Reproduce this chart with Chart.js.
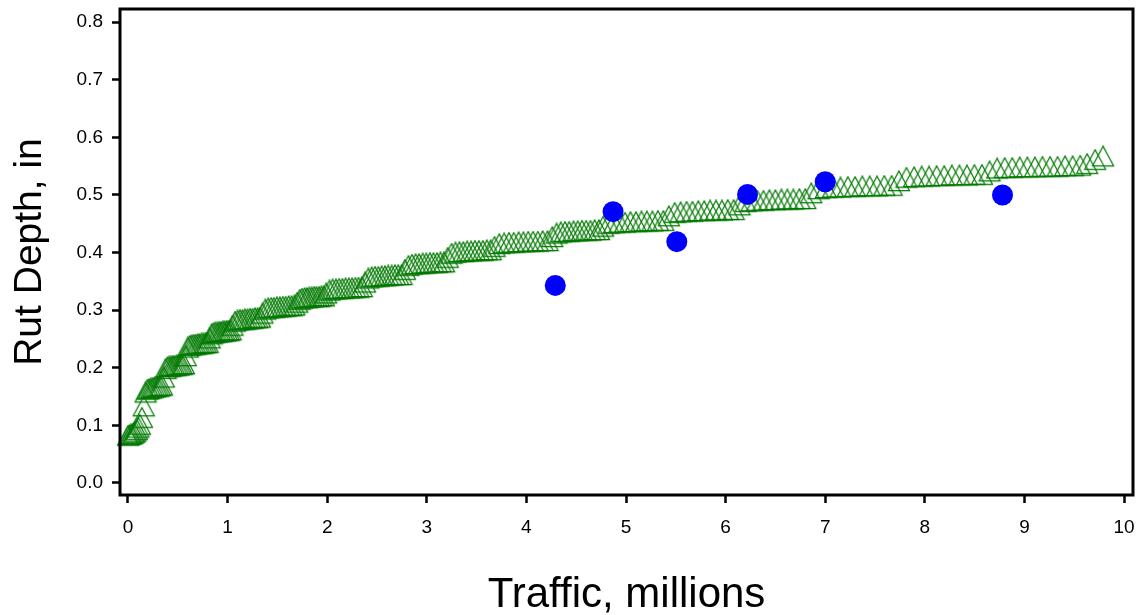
<!DOCTYPE html>
<html>
<head>
<meta charset="utf-8">
<title>Rut Depth vs Traffic</title>
<script src="https://cdn.jsdelivr.net/npm/chart.js@4/dist/chart.umd.min.js"></script>
<style>
  html, body { margin: 0; padding: 0; background: #ffffff; }
  #wrap { width: 1141px; height: 615px; }
</style>
</head>
<body>
<div id="wrap"><canvas id="chart" width="1141" height="615"></canvas></div>
<script>
// Predicted rut depth (monthly steps) against cumulative traffic, millions
const trafficModel = [
  0.000, 0.015, 0.030, 0.045, 0.060, 0.075, 0.090, 0.105, 0.120,
  0.140, 0.158, 0.177, 0.195, 0.213, 0.232, 0.250, 0.268, 0.287, 0.305, 0.323, 0.342,
  0.360, 0.378, 0.397, 0.415, 0.433, 0.452, 0.470, 0.488, 0.507, 0.525, 0.543, 0.562,
  0.580, 0.600, 0.620, 0.640, 0.660, 0.680, 0.700, 0.720, 0.740, 0.760, 0.780, 0.800,
  0.820, 0.839, 0.858, 0.878, 0.897, 0.916, 0.935, 0.954, 0.973, 0.993, 1.012, 1.031,
  1.050, 1.075, 1.100, 1.125, 1.150, 1.175, 1.200, 1.225, 1.250, 1.275, 1.300, 1.325,
  1.350, 1.379, 1.408, 1.438, 1.467, 1.496, 1.525, 1.554, 1.583, 1.613, 1.642, 1.671,
  1.700, 1.724, 1.748, 1.773, 1.797, 1.821, 1.845, 1.869, 1.893, 1.918, 1.942, 1.966,
  1.990, 2.023, 2.055, 2.088, 2.120, 2.153, 2.185, 2.218, 2.250, 2.283, 2.315, 2.348,
  2.380, 2.413, 2.447, 2.480, 2.513, 2.547, 2.580, 2.613, 2.647, 2.680, 2.713, 2.747,
  2.780, 2.816, 2.852, 2.888, 2.923, 2.959, 2.995, 3.031, 3.067, 3.103, 3.138, 3.174,
  3.210, 3.249, 3.288, 3.328, 3.367, 3.406, 3.445, 3.484, 3.523, 3.563, 3.602, 3.641,
  3.680, 3.728, 3.777, 3.825, 3.873, 3.922, 3.970, 4.018, 4.067, 4.115, 4.163, 4.212,
  4.260, 4.303, 4.345, 4.388, 4.430, 4.473, 4.515, 4.558, 4.600, 4.643, 4.685, 4.728,
  4.770, 4.825, 4.880, 4.935, 4.990, 5.045, 5.100, 5.155, 5.210, 5.265, 5.320, 5.375,
  5.430, 5.489, 5.548, 5.608, 5.667, 5.726, 5.785, 5.844, 5.903, 5.963, 6.022, 6.081,
  6.140, 6.200, 6.260, 6.320, 6.380, 6.440, 6.500, 6.560, 6.620, 6.680, 6.740, 6.800,
  6.860, 6.933, 7.007, 7.080, 7.153, 7.227, 7.300, 7.373, 7.447, 7.520, 7.593, 7.667,
  7.740, 7.816, 7.892, 7.968, 8.043, 8.119, 8.195, 8.271, 8.347, 8.423, 8.498, 8.574,
  8.650, 8.726, 8.802, 8.878, 8.953, 9.029, 9.105, 9.181, 9.257, 9.333, 9.408, 9.484,
  9.560, 9.630, 9.710, 9.790
];
const rutModel = [
  0.077, 0.078, 0.079, 0.080, 0.082, 0.084, 0.087, 0.091, 0.096,
  0.108, 0.128, 0.152, 0.157, 0.158, 0.159, 0.160, 0.161, 0.162, 0.162, 0.163, 0.164,
  0.178, 0.193, 0.196, 0.197, 0.197, 0.198, 0.198, 0.199, 0.199, 0.200, 0.200, 0.201,
  0.215, 0.230, 0.233, 0.234, 0.235, 0.235, 0.236, 0.236, 0.237, 0.237, 0.238, 0.238,
  0.246, 0.253, 0.255, 0.256, 0.256, 0.257, 0.257, 0.258, 0.258, 0.259, 0.259, 0.260,
  0.268, 0.275, 0.277, 0.278, 0.278, 0.279, 0.279, 0.280, 0.280, 0.281, 0.281, 0.282,
  0.289, 0.296, 0.298, 0.299, 0.299, 0.300, 0.300, 0.301, 0.301, 0.302, 0.302, 0.303,
  0.308, 0.313, 0.315, 0.316, 0.316, 0.317, 0.317, 0.318, 0.318, 0.318, 0.319, 0.319,
  0.324, 0.329, 0.331, 0.331, 0.332, 0.332, 0.333, 0.333, 0.333, 0.334, 0.334, 0.335,
  0.343, 0.350, 0.352, 0.353, 0.353, 0.354, 0.354, 0.355, 0.355, 0.356, 0.356, 0.356,
  0.365, 0.372, 0.374, 0.375, 0.375, 0.376, 0.376, 0.377, 0.377, 0.377, 0.378, 0.378,
  0.386, 0.393, 0.395, 0.396, 0.396, 0.397, 0.397, 0.398, 0.398, 0.398, 0.399, 0.399,
  0.405, 0.410, 0.411, 0.412, 0.412, 0.413, 0.413, 0.414, 0.414, 0.414, 0.415, 0.415,
  0.422, 0.428, 0.430, 0.431, 0.431, 0.432, 0.432, 0.433, 0.433, 0.433, 0.434, 0.434,
  0.440, 0.445, 0.446, 0.447, 0.447, 0.448, 0.448, 0.449, 0.449, 0.449, 0.450, 0.450,
  0.458, 0.464, 0.465, 0.466, 0.466, 0.467, 0.467, 0.468, 0.468, 0.468, 0.469, 0.469,
  0.477, 0.483, 0.484, 0.485, 0.485, 0.486, 0.486, 0.487, 0.487, 0.487, 0.488, 0.488,
  0.498, 0.505, 0.507, 0.508, 0.508, 0.509, 0.509, 0.510, 0.510, 0.510, 0.511, 0.511,
  0.519, 0.525, 0.526, 0.527, 0.527, 0.528, 0.528, 0.529, 0.529, 0.529, 0.530, 0.530,
  0.536, 0.541, 0.542, 0.542, 0.543, 0.543, 0.543, 0.544, 0.544, 0.544, 0.545, 0.545,
  0.546, 0.549, 0.556, 0.562
];

// Field-measured rut depths
const trafficMeasured = [4.29, 4.87, 5.51, 6.22, 7.00, 8.78];
const rutMeasured = [0.343, 0.471, 0.419, 0.501, 0.523, 0.500];

// Axis ticks
const xTicks = [0, 1, 2, 3, 4, 5, 6, 7, 8, 9, 10];
const yTicks = [0.0, 0.1, 0.2, 0.3, 0.4, 0.5, 0.6, 0.7, 0.8];

const FONT = "'Liberation Sans', Arial, Helvetica, sans-serif";

// Open triangle marker, a little taller than Chart.js' equilateral one
function makeTriangle() {
  const c = document.createElement('canvas');
  c.width = 24;
  c.height = 28;
  const g = c.getContext('2d');
  g.strokeStyle = '#007a00';
  g.lineWidth = 1.25;
  g.beginPath();
  g.moveTo(12, 1);
  g.lineTo(22.5, 20.5);
  g.lineTo(1.5, 20.5);
  g.closePath();
  g.stroke();
  return c;
}

// Black box around the plotting area
const framePlugin = {
  id: 'frame',
  afterDatasetsDraw(chart) {
    const { ctx, chartArea: a } = chart;
    ctx.save();
    ctx.lineWidth = 3;
    ctx.strokeStyle = '#000000';
    ctx.strokeRect(a.left, a.top, a.right - a.left, a.bottom - a.top);
    ctx.restore();
  }
};

// Fixed axis sizes; edge label overhang is ignored so the box is set by layout.padding
const noPadding = () => ({ left: 0, top: 0, right: 0, bottom: 0 });
function fixVertical(s) {
  s.width = 120;
  s.paddingTop = 0;
  s.paddingBottom = 0;
  s.getPadding = noPadding;
}
function fixHorizontal(s) {
  s.height = 120;
  s.paddingLeft = 0;
  s.paddingRight = 0;
  s.getPadding = noPadding;
}

new Chart(document.getElementById('chart'), {
  type: 'scatter',
  data: {
    datasets: [
      {
        label: 'Measured',
        data: trafficMeasured.map((x, i) => ({ x, y: rutMeasured[i] })),
        pointStyle: 'circle',
        pointRadius: 10.5,
        pointBackgroundColor: '#0000ff',
        pointBorderColor: '#0000ff',
        pointBorderWidth: 0,
        clip: false,
        order: 0
      },
      {
        label: 'Predicted',
        data: trafficModel.map((x, i) => ({ x, y: rutModel[i] })),
        pointStyle: makeTriangle(),
        pointRadius: 12,
        clip: false,
        order: 1
      }
    ]
  },
  options: {
    responsive: false,
    animation: false,
    events: [],
    layout: { autoPadding: false, padding: { top: 9, right: 8, left: 0, bottom: 0 } },
    plugins: {
      legend: { display: false },
      tooltip: { enabled: false }
    },
    scales: {
      x: {
        type: 'linear',
        min: -0.08,
        max: 10.09,
        afterFit: fixHorizontal,
        afterBuildTicks: s => { s.ticks = xTicks.map(v => ({ value: v })); },
        border: { display: false },
        grid: {
          display: true,
          drawOnChartArea: false,
          drawTicks: true,
          tickLength: 8,
          tickWidth: 2.5,
          tickColor: '#000000'
        },
        ticks: {
          color: '#000000',
          font: { family: FONT, size: 19 },
          padding: 13,
          maxRotation: 0,
          callback: v => String(v)
        },
        title: {
          display: true,
          text: 'Traffic, millions',
          color: '#000000',
          font: { family: FONT, size: 42, lineHeight: 0.95 },
          padding: { top: 0, bottom: 0 }
        }
      },
      y: {
        type: 'linear',
        min: -0.021,
        max: 0.823,
        afterFit: fixVertical,
        afterBuildTicks: s => { s.ticks = yTicks.map(v => ({ value: v })); },
        border: { display: false },
        grid: {
          display: true,
          drawOnChartArea: false,
          drawTicks: true,
          tickLength: 8,
          tickWidth: 2.5,
          tickColor: '#000000'
        },
        ticks: {
          color: '#000000',
          font: { family: FONT, size: 19 },
          padding: 9,
          callback: v => Number(v).toFixed(1)
        },
        title: {
          display: true,
          text: 'Rut Depth, in',
          color: '#000000',
          font: { family: FONT, size: 39 },
          padding: { top: 7, bottom: 0 }
        }
      }
    }
  },
  plugins: [framePlugin]
});
</script>
</body>
</html>
